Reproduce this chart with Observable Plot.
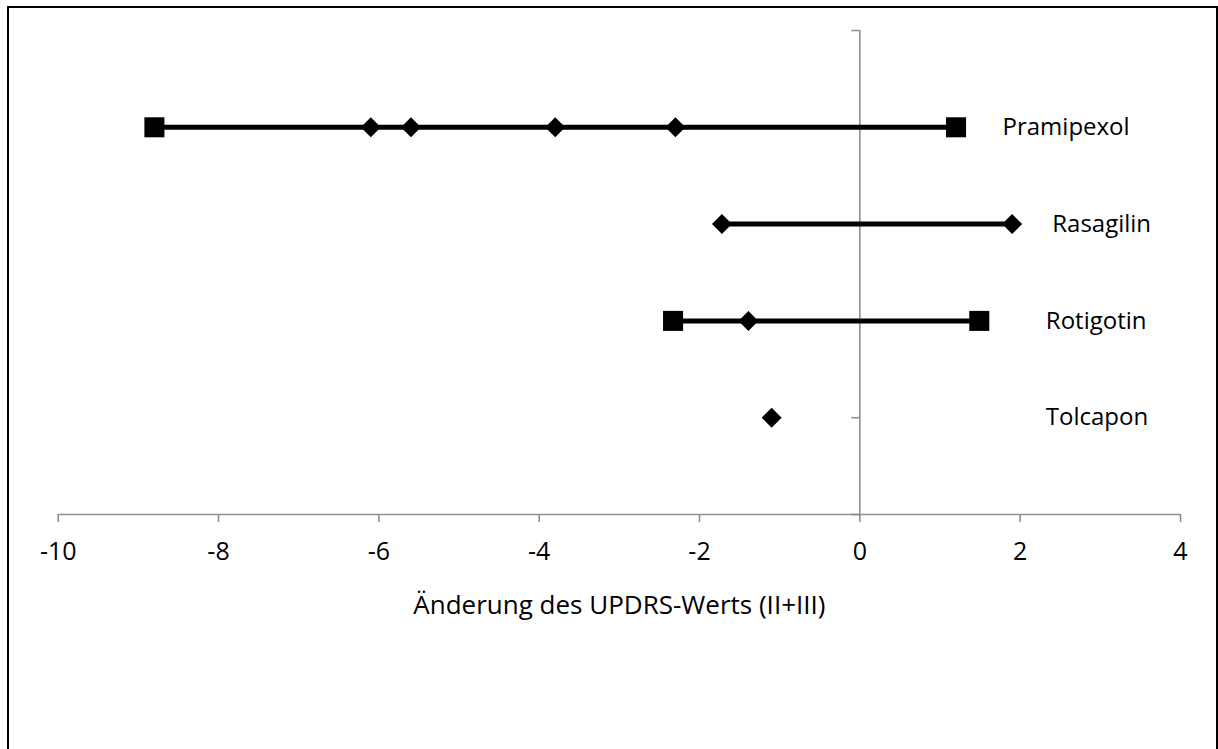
<!DOCTYPE html>
<html>
<head>
<meta charset="utf-8">
<script src="https://cdn.jsdelivr.net/npm/d3@7"></script>
<script src="https://cdn.jsdelivr.net/npm/@observablehq/plot@0.6"></script>
<style>
  html, body { margin: 0; padding: 0; background: #fff; }
  #wrap { position: relative; width: 1218px; height: 749px; overflow: hidden; }
  #border { position: absolute; left: 7px; top: 6px; width: 1207px; height: 800px;
            border: 2px solid #000; border-bottom: none; pointer-events: none; }
  #chart svg { display: block; }
</style>
</head>
<body>
<div id="wrap">
  <div id="chart"></div>
  <div id="border"></div>
</div>
<script>
// Drugs, top to bottom, and their row positions on the vertical scale
const drugs = ["Pramipexol", "Rasagilin", "Rotigotin", "Tolcapon"];
const rowPos = [4, 3, 2, 1];
// Change in UPDRS (II+III): range end points drawn as squares
const squareValues = [[-8.8, 1.2], [], [-2.33, 1.49], []];
// Individual study results drawn as diamonds
const diamondValues = [[-6.1, -5.6, -3.8, -2.3], [-1.72, 1.9], [-1.39], [-1.1]];
// Where each drug name starts on the x scale
const labelX = [1.78, 2.4, 2.32, 2.32];
// Axis ticks
const xTicks = [-10, -8, -6, -4, -2, 0, 2, 4];
const yTicks = [0, 1, 2, 3, 4, 5];
const xTitle = "Änderung des UPDRS-Werts (II+III)";

const W = 1218, H = 749;
const mL = 57.7, mR = 38, mT = 30, mB = 235;
const axisGray = "#8f8f8f";

const squares = drugs.flatMap((d, i) => squareValues[i].map(v => ({drug: d, y: rowPos[i], x: v})));
const diamonds = drugs.flatMap((d, i) => diamondValues[i].map(v => ({drug: d, y: rowPos[i], x: v})));
const ranges = drugs.map((d, i) => {
  const all = squareValues[i].concat(diamondValues[i]);
  return {drug: d, y: rowPos[i], x1: d3.min(all), x2: d3.max(all)};
}).filter(r => r.x1 < r.x2);
const labels = drugs.map((d, i) => ({drug: d, y: rowPos[i], x: labelX[i]}));

// horizontal offset that moves the vertical axis ticks onto x = 0
const x0 = d3.scaleLinear([-10, 4], [mL, W - mR])(0) - mL;

const chart = Plot.plot({
  width: W,
  height: H,
  marginLeft: mL,
  marginRight: mR,
  marginTop: mT,
  marginBottom: mB,
  style: {fontFamily: "'Open Sans', sans-serif", fontSize: "24px", background: "#fff", color: "#000"},
  x: {domain: [-10, 4]},
  y: {domain: [0, 5]},
  marks: [
    // axes lines
    Plot.ruleY([0], {x1: -10, x2: 4, stroke: axisGray, strokeWidth: 1.6}),
    Plot.ruleX([0], {y1: 0, y2: 5, stroke: axisGray, strokeWidth: 1.6}),
    Plot.axisX({ticks: xTicks, tickSize: 8, tickPadding: 20, stroke: axisGray, strokeWidth: 1.6,
                fill: "#000", fontSize: 25, label: null, tickFormat: d => String(d).replace("−", "-")}),
    Plot.axisY({ticks: yTicks, tickSize: 8, tickFormat: () => "", label: null, dx: x0,
                stroke: axisGray, strokeWidth: 1.6}),
    Plot.text([xTitle], {frameAnchor: "bottom", dy: 91, lineAnchor: "middle", fontSize: 26, fill: "#000"}),
    // ranges
    Plot.ruleY(ranges, {y: "y", x1: "x1", x2: "x2", stroke: "#000", strokeWidth: 5}),
    Plot.dot(squares, {x: "x", y: "y", symbol: "square", r: 11.3, fill: "#000", stroke: "none"}),
    Plot.dot(diamonds, {x: "x", y: "y", symbol: "diamond2", r: 9, fill: "#000", stroke: "none"}),
    // drug names
    Plot.text(labels, {x: "x", y: "y", text: "drug", textAnchor: "start", lineAnchor: "middle",
                       fontSize: 24, fill: "#000"})
  ]
});
document.getElementById("chart").append(chart);
</script>
</body>
</html>
